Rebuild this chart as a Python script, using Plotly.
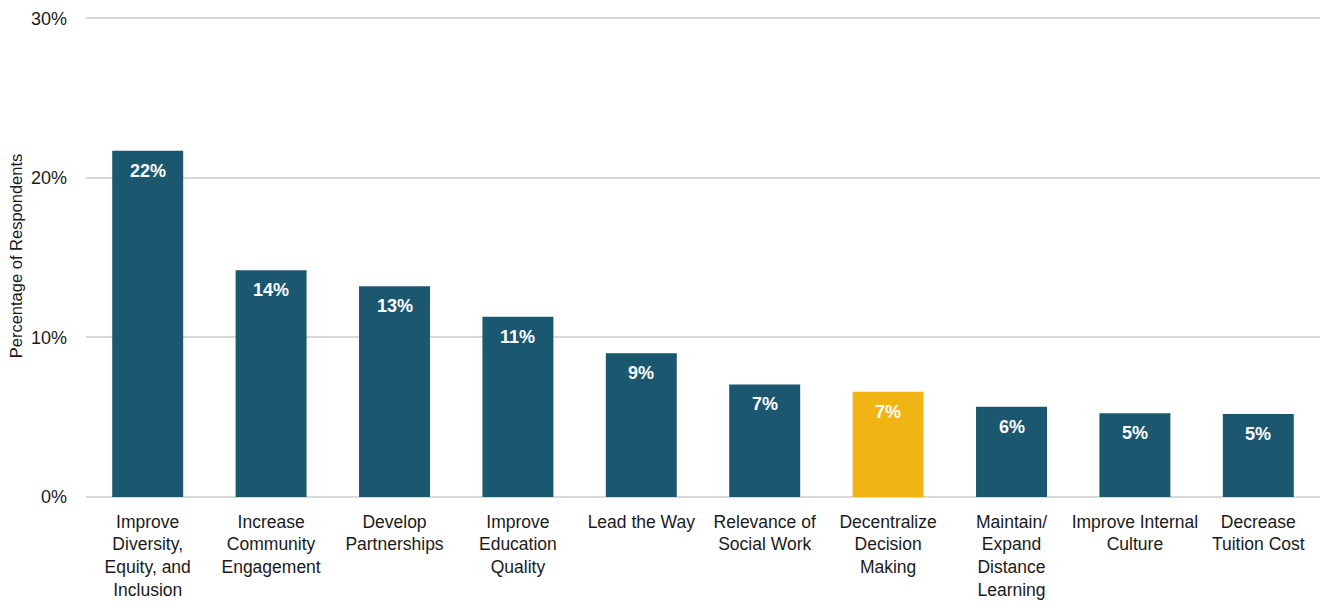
import plotly.graph_objects as go

categories = [
    "Improve<br>Diversity,<br>Equity, and<br>Inclusion",
    "Increase<br>Community<br>Engagement",
    "Develop<br>Partnerships",
    "Improve<br>Education<br>Quality",
    "Lead the Way",
    "Relevance of<br>Social Work",
    "Decentralize<br>Decision<br>Making",
    "Maintain/<br>Expand<br>Distance<br>Learning",
    "Improve Internal<br>Culture",
    "Decrease<br>Tuition Cost",
]
percentages = [21.7, 14.2, 13.2, 11.3, 9.0, 7.05, 6.6, 5.65, 5.25, 5.2]
highlight = "Decentralize<br>Decision<br>Making"
y_ticks = [0, 10, 20, 30]
y_tick_labels = ["0%", "10%", "20%", "30%"]

TEAL = "#1C5770"
GOLD = "#F0B414"
FONT = "Liberation Sans, Arial, sans-serif"

colors = [GOLD if c == highlight else TEAL for c in categories]

fig = go.Figure(
    go.Bar(
        x=categories,
        y=percentages,
        marker=dict(color=colors, line=dict(width=0)),
        width=0.575,
        hoverinfo="skip",
    )
)

# value labels sit just inside the top of each bar
for c, v in zip(categories, percentages):
    fig.add_annotation(
        x=c, y=v, text=f"<b>{v:.0f}%</b>", showarrow=False,
        yanchor="top", yshift=-8,
        font=dict(family=FONT, size=18, color="white"),
    )

fig.update_layout(
    width=1320, height=605,
    margin=dict(l=86, r=0, t=15, b=108),
    paper_bgcolor="white", plot_bgcolor="white",
    showlegend=False,
    font=dict(family=FONT, size=17, color="#1a1a1a"),
)
fig.update_xaxes(
    showgrid=False, showline=False, ticks="",
    ticklabelstandoff=12,
    tickfont=dict(family=FONT, size=17.5, color="#1a1a1a"),
    tickangle=0,
)
fig.update_yaxes(
    range=[0, 30.2], tickmode="array", tickvals=y_ticks, ticktext=y_tick_labels,
    showgrid=True, gridcolor="#D9D9D9", gridwidth=1.5,
    zeroline=True, zerolinecolor="#D9D9D9", zerolinewidth=2,
    showline=False, ticks="", ticklabelstandoff=18,
    tickfont=dict(family=FONT, size=18, color="#1a1a1a"),
    title=dict(text="Percentage of Respondents", standoff=4,
               font=dict(family=FONT, size=16.5, color="#1a1a1a")),
)

fig.write_html("out.html")
